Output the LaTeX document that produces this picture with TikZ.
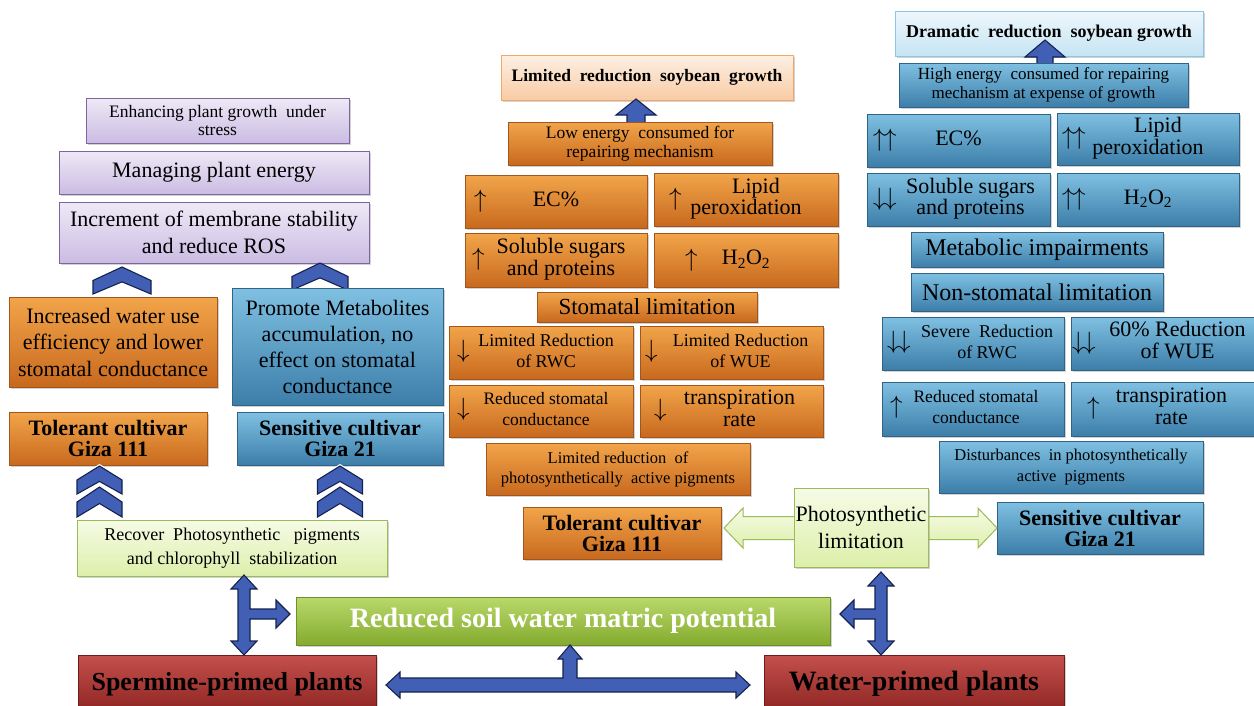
\documentclass[tikz,border=0pt]{standalone}
\usepackage{fix-cm}
\usepackage{fontspec}
\setmainfont{Liberation Serif}
\usetikzlibrary{shadows}
\newcommand\fsz[2]{\fontsize{#1}{#2}\selectfont}
\definecolor{orT}{HTML}{F2A54A}\definecolor{orB}{HTML}{C8691E}\definecolor{orD}{HTML}{A0561C}
\definecolor{blT}{HTML}{7FC0E2}\definecolor{blB}{HTML}{3C7EA9}\definecolor{blD}{HTML}{2F6487}
\definecolor{puT}{HTML}{EEE9F6}\definecolor{puB}{HTML}{CBBCE3}\definecolor{puD}{HTML}{8064A2}
\definecolor{lgT}{HTML}{F6FBE6}\definecolor{lgB}{HTML}{DDEFAA}\definecolor{lgD}{HTML}{9BBB59}
\definecolor{grT}{HTML}{B9D96A}\definecolor{grB}{HTML}{84AA2E}\definecolor{grD}{HTML}{6E8F2A}
\definecolor{rdT}{HTML}{C4504C}\definecolor{rdB}{HTML}{8C2422}\definecolor{rdD}{HTML}{6E1C1A}
\definecolor{peT}{HTML}{FDF0E4}\definecolor{peB}{HTML}{F8CBA4}\definecolor{peD}{HTML}{F0A868}
\definecolor{lbT}{HTML}{EEF7FC}\definecolor{lbB}{HTML}{C6E4F4}\definecolor{lbD}{HTML}{8DC6E0}
\definecolor{arF}{HTML}{4160B5}\definecolor{arD}{HTML}{15224F}
\tikzset{
  base/.style={rectangle, inner sep=0pt, align=center, text=black, line width=0.8pt,
    drop shadow={shadow xshift=1.5pt, shadow yshift=-2pt, opacity=0.35}},
  ob/.style={base, top color=orT, bottom color=orB, draw=orD},
  bb/.style={base, top color=blT, bottom color=blB, draw=blD},
  pu/.style={base, top color=puT, bottom color=puB, draw=puD},
  lg/.style={base, top color=lgT, bottom color=lgB, draw=lgD},
  gr/.style={base, top color=grT, bottom color=grB, draw=grD},
  rd/.style={base, top color=rdT, bottom color=rdB, draw=rdD},
  pe/.style={base, top color=peT, bottom color=peB, draw=peD},
  lb/.style={base, top color=lbT, bottom color=lbB, draw=lbD},
  blk/.style={fill=arF, draw=arD, line width=1.1pt, line join=miter},
  whiteout/.style={draw=white, line width=3.5pt, line join=miter},
  lgarrow/.style={top color=lgT, bottom color=lgB, draw=lgD, line width=1pt}
}
\newcommand\mybox[7]{\node[#2,minimum width={#5-#3},minimum height={#6-#4}] (#1) at ({(#3+#5)/2},{(#4+#6)/2}) {#7};}
\newcommand\arr[5]{\makebox[0pt][l]{\hspace*{#2}{\fsz{25}{25}$#3$}}\makebox[#1]{\hspace*{#4}\begin{tabular}{@{}c@{}}#5\end{tabular}}}
\newcommand\uu{\uparrow\mkern-1mu\uparrow}
\newcommand\dd{\downarrow\mkern-1mu\downarrow}
\newcommand\chev[5][blk]{\path[#1] ({#2-#4},#3) -- ({#2-#4},{#3-0.5*#5}) -- (#2,{#3-#5}) -- ({#2+#4},{#3-0.5*#5}) -- ({#2+#4},#3) -- (#2,{#3-0.45*#5}) -- cycle;}
\begin{document}
\begin{tikzpicture}[x=1pt,y=-1pt]
\useasboundingbox (0,0) rectangle (1254,705);
\clip (0,0) rectangle (1254,705);
\fill[white] (0,0) rectangle (1254,705);
% left column
\mybox{enh}{pu, font=\fsz{17.5}{18}}{86}{98}{349}{143}{Enhancing plant growth~ under\\stress}
\mybox{man}{pu, font=\fsz{22}{26}}{59}{151}{369}{194}{Managing plant energy}
\mybox{inc}{pu, font=\fsz{22}{26.5}}{59}{202}{369}{263}{Increment of membrane stability\\and reduce ROS}
\chev{122}{294}{29}{27}
\chev{320}{290}{28}{27}
\mybox{iwue}{ob, font=\fsz{22}{26.5}}{9}{297}{217}{387}{Increased water use\\efficiency and lower\\stomatal conductance}
\mybox{prom}{bb, font=\fsz{22}{26}}{232}{288}{443}{405}{Promote Metabolites\\accumulation, no\\effect on stomatal\\conductance}
\mybox{tolL}{ob, font=\bfseries\fsz{22}{21}}{9}{412}{207}{465}{Tolerant cultivar\\Giza 111}
\mybox{senL}{bb, font=\bfseries\fsz{22}{21}}{237}{412}{443}{465}{Sensitive cultivar\\Giza 21}
\chev{99.5}{517}{22.5}{30}
\chev[whiteout]{99.5}{494}{22.5}{28}
\chev{99.5}{494}{22.5}{28}
\chev{340}{517}{22.5}{30}
\chev[whiteout]{340}{494}{22.5}{28}
\chev{340}{494}{22.5}{28}
\mybox{rec}{lg, font=\fsz{18}{23.5}}{77}{520}{387}{576}{Recover~ Photosynthetic~~ pigments\\and chlorophyll~ stabilization}
% middle column
\mybox{limg}{pe, font=\bfseries\fsz{17.5}{20}}{501}{55}{793}{100}{Limited~ reduction~ soybean~ growth}
\path[blk] (636,99) -- (656,115) -- (645,115) -- (645,130) -- (627,130) -- (627,115) -- (616,115) -- cycle;
\mybox{lowe}{ob, font=\fsz{17.5}{19.5}}{508}{122}{772}{165}{Low energy~ consumed for\\repairing mechanism}
\mybox{ec}{ob, font=\fsz{22}{21}}{465}{175}{647}{228}{\arr{180pt}{8pt}{\uparrow}{0pt}{EC\%}}
\mybox{lip}{ob, font=\fsz{22}{21}}{654}{173}{838}{226}{\arr{182pt}{14pt}{\uparrow}{0pt}{\hspace*{20pt}Lipid\\peroxidation}}
\mybox{sol}{ob, font=\fsz{22}{21}}{465}{233}{647}{287}{\arr{180pt}{6pt}{\uparrow}{10pt}{Soluble sugars\\and proteins}}
\mybox{hoo}{ob, font=\fsz{22}{21}}{654}{233}{838}{287}{\arr{182pt}{30pt}{\uparrow}{0pt}{H\textsubscript{2}O\textsubscript{2}}}
\mybox{stl}{ob, font=\fsz{23}{26}}{537}{292}{757}{322}{Stomatal limitation}
\mybox{rwc}{ob, font=\fsz{18}{21.5}}{449}{326}{633}{379}{\arr{182pt}{7pt}{\downarrow}{10pt}{Limited Reduction\\of RWC}}
\mybox{wue}{ob, font=\fsz{18}{21.5}}{640}{326}{823}{379}{\arr{181pt}{4pt}{\downarrow}{18pt}{Limited Reduction\\of WUE}}
\mybox{rsc}{ob, font=\fsz{17.5}{21}}{449}{385}{633}{437}{\arr{182pt}{7pt}{\downarrow}{10pt}{Reduced stomatal\\conductance}}
\mybox{trr}{ob, font=\fsz{22}{22}}{640}{385}{823}{437}{\arr{181pt}{13pt}{\downarrow}{16pt}{transpiration\\rate}}
\mybox{lpig}{ob, font=\fsz{16.5}{20}}{486}{443}{750}{495}{Limited reduction~ of\\photosynthetically~ active pigments}
\mybox{tolM}{ob, font=\bfseries\fsz{22}{21}}{523}{507}{721}{559}{Tolerant cultivar\\Giza 111}
% right column
\mybox{dram}{lb, font=\bfseries\fsz{18}{20}}{895}{11}{1203}{56}{Dramatic~ reduction~ soybean growth}
\path[blk] (1045,40) -- (1065,57) -- (1053,57) -- (1053,72) -- (1037,72) -- (1037,57) -- (1025,57) -- cycle;
\mybox{high}{bb, font=\fsz{17}{19.5}}{899}{63}{1188}{107}{High energy~ consumed for repairing\\mechanism at expense of growth}
\mybox{ecb}{bb, font=\fsz{22}{21}}{867}{114}{1050}{167}{\arr{181pt}{5pt}{\uu}{0pt}{EC\%}}
\mybox{lipb}{bb, font=\fsz{22}{21}}{1057}{113}{1239}{165}{\arr{180pt}{4pt}{\uu}{0pt}{\hspace*{20pt}Lipid\\peroxidation}}
\mybox{solb}{bb, font=\fsz{22}{21}}{867}{173}{1050}{226}{\arr{181pt}{5pt}{\dd}{24pt}{Soluble sugars\\and proteins}}
\mybox{hoob}{bb, font=\fsz{22}{21}}{1057}{173}{1239}{226}{\arr{180pt}{4pt}{\uu}{0pt}{H\textsubscript{2}O\textsubscript{2}}}
\mybox{meta}{bb, font=\fsz{24}{26}}{911}{232}{1163}{267}{Metabolic impairments}
\mybox{nons}{bb, font=\fsz{24}{26}}{911}{273}{1163}{311}{Non-stomatal limitation}
\mybox{rwcb}{bb, font=\fsz{18}{21.5}}{882}{317}{1064}{370}{\arr{180pt}{4pt}{\dd}{28pt}{Severe~ Reduction\\of RWC}}
\mybox{wueb}{bb, font=\fsz{22}{22}}{1071}{317}{1256}{370}{\arr{183pt}{0pt}{\dd}{28pt}{60\% Reduction\\of WUE}}
\mybox{rscb}{bb, font=\fsz{17.5}{21}}{882}{382}{1064}{436}{\arr{180pt}{7pt}{\uparrow}{6pt}{Reduced stomatal\\conductance}}
\mybox{trrb}{bb, font=\fsz{22}{22}}{1071}{382}{1256}{436}{\arr{183pt}{15pt}{\uparrow}{16pt}{transpiration\\rate}}
\mybox{dist}{bb, font=\fsz{16.5}{21}}{939}{441}{1203}{493}{Disturbances~ in photosynthetically\\active~ pigments}
\mybox{senR}{bb, font=\bfseries\fsz{22}{21}}{997}{502}{1203}{554}{Sensitive cultivar\\Giza 21}
% photosynthetic limitation
\path[lgarrow] (724,528) -- (743,508) -- (743,516.5) -- (978,516.5) -- (978,508) -- (997,528) -- (978,548) -- (978,539.5) -- (743,539.5) -- (743,548) -- cycle;
\mybox{phot}{lg, font=\fsz{22}{26.5}}{794}{488}{928}{567}{Photosynthetic\\limitation}
% bottom
\mybox{soil}{gr, font=\bfseries\fsz{28}{30}, text=white}{296}{597}{830}{645}{Reduced soil water matric potential}
\mybox{sperm}{rd, font=\bfseries\fsz{26}{30}}{78}{655}{376}{713}{Spermine-primed plants}
\mybox{water}{rd, font=\bfseries\fsz{28}{30}}{764}{655}{1064}{713}{Water-primed plants}
% blue connectors
\path[blk] (244,575) -- (257,589) -- (250,589) -- (250,609) -- (276,609) -- (276,600) -- (290,614) -- (276,628) -- (276,619) -- (250,619) -- (250,641) -- (257,641) -- (244,655) -- (231,641) -- (238,641) -- (238,589) -- (231,589) -- cycle;
\path[blk] (881,572) -- (894,586) -- (887,586) -- (887,641) -- (894,641) -- (881,655) -- (868,641) -- (875,641) -- (875,619) -- (854,619) -- (854,628) -- (840,614) -- (854,600) -- (854,609) -- (875,609) -- (875,586) -- (868,586) -- cycle;
\path[blk] (386,685) -- (400,672) -- (400,678) -- (563,678) -- (563,659) -- (558,659) -- (570,645) -- (582,659) -- (577,659) -- (577,678) -- (736,678) -- (736,672) -- (750,685) -- (736,698) -- (736,692) -- (400,692) -- (400,698) -- cycle;
\end{tikzpicture}
\end{document}
